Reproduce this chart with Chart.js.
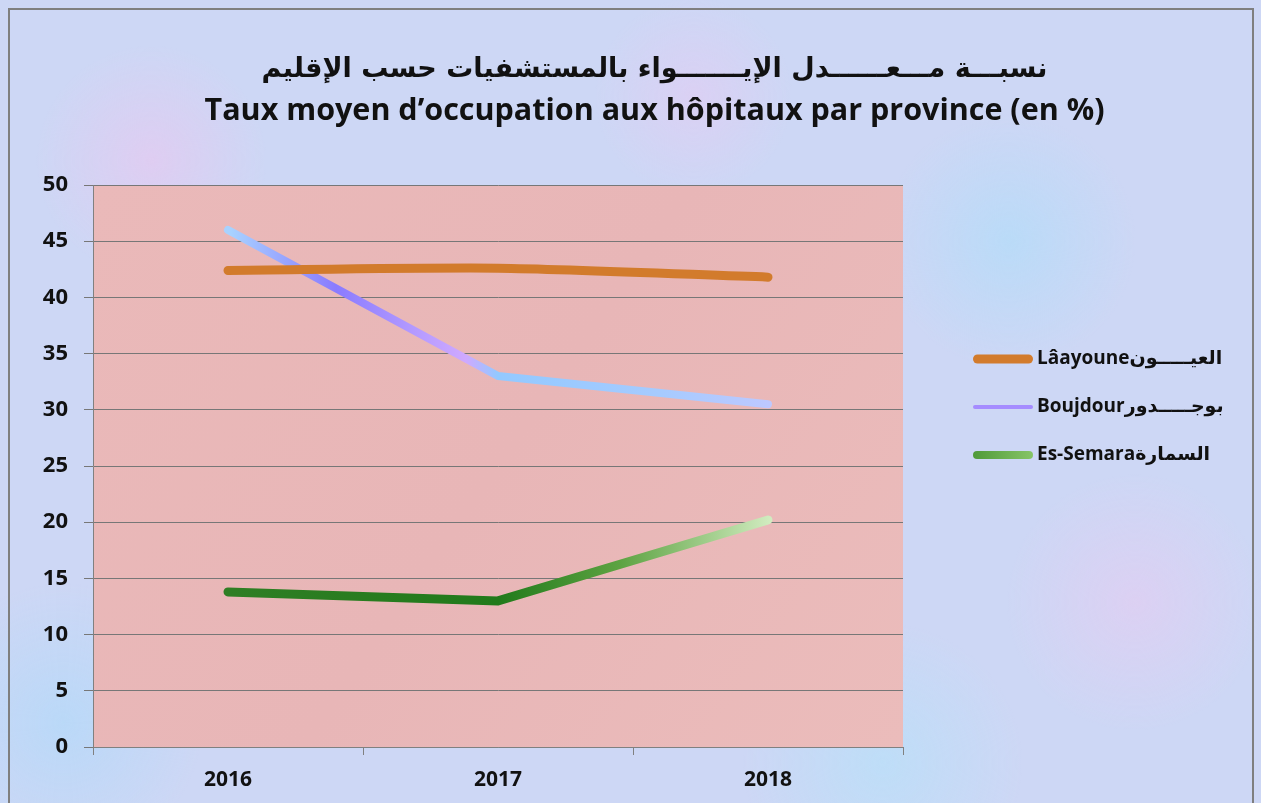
<!DOCTYPE html>
<html>
<head>
<meta charset="utf-8">
<script src="https://cdn.jsdelivr.net/npm/chart.js@4/dist/chart.umd.min.js"></script>
<style>
  html, body { margin:0; padding:0; width:1261px; height:803px; overflow:hidden; }
  body {
    background-color:#cdd7f5;
    background-image:
      radial-gradient(circle at 12% 20%, rgba(240,195,238,0.5) 0, rgba(240,195,238,0) 9%),
      radial-gradient(circle at 30% 70%, rgba(175,228,250,0.55) 0, rgba(175,228,250,0) 12%),
      radial-gradient(circle at 55% 12%, rgba(235,200,242,0.45) 0, rgba(235,200,242,0) 10%),
      radial-gradient(circle at 80% 30%, rgba(170,222,250,0.55) 0, rgba(170,222,250,0) 11%),
      radial-gradient(circle at 90% 75%, rgba(238,200,240,0.45) 0, rgba(238,200,240,0) 10%),
      radial-gradient(circle at 70% 95%, rgba(175,228,250,0.5) 0, rgba(175,228,250,0) 12%),
      radial-gradient(circle at 5% 90%, rgba(170,218,250,0.55) 0, rgba(170,218,250,0) 10%),
      radial-gradient(circle at 45% 50%, rgba(228,205,246,0.45) 0, rgba(228,205,246,0) 15%);
  }
  #frame { position:absolute; left:8px; top:8px; width:1246px; height:820px; border:2px solid #7f7f7f; box-sizing:border-box; pointer-events:none; }
  #wrap { position:absolute; left:0; top:0; width:1309px; height:803px; }
</style>
</head>
<body>
<div id="wrap"><canvas id="c" width="1309" height="803"></canvas></div>
<div id="frame"></div>
<script>
// ---- data ----
const categories = ['2016', '2017', '2018'];
const laayoune = [42.4, 42.6, 41.8];
const boujdour = [46.0, 33.0, 30.5];
const semara = [13.8, 13.0, 20.2];
const seriesNames = ['Lâayoune' + 'العيـــــون', 'Boujdour' + 'بوجـــــدور', 'Es-Semara' + 'السمارة'];
const yTicks = [0, 5, 10, 15, 20, 25, 30, 35, 40, 45, 50];
const titleAr = 'نسبـــة مـــعــــــدل الإيـــــــواء بالمستشفيات حسب الإقليم';
const titleFr = 'Taux moyen d’occupation aux hôpitaux par province (en %)';

function hGrad(chart, stops, fallback) {
  const a = chart.chartArea;
  if (!a) return fallback;
  const g = chart.ctx.createLinearGradient(a.left, 0, a.right, 0);
  stops.forEach(s => g.addColorStop(s[0], s[1]));
  return g;
}
const blueStops = [[0, '#a8d4ff'], [0.17, '#a8d2ff'], [0.3, '#8a7bff'], [0.4, '#b59bff'], [0.46, '#cfa9ff'], [0.5, '#93c9ff'], [0.7, '#a6cbff'], [0.84, '#bec8ff'], [1, '#bec8ff']];
const greenStops = [[0, '#2f7e24'], [0.17, '#2f7e24'], [0.5, '#217a1b'], [0.65, '#5da342'], [0.84, '#d3edc2'], [1, '#d3edc2']];

const plotBg = {
  id: 'plotBg',
  beforeDraw(chart) {
    const { ctx, chartArea: a } = chart;
    ctx.save();
    const g = ctx.createLinearGradient(a.left, a.top, a.right, a.bottom);
    g.addColorStop(0, '#eab9b9');
    g.addColorStop(0.5, '#e8b6b7');
    g.addColorStop(1, '#ebbcbb');
    ctx.fillStyle = g;
    ctx.fillRect(a.left, a.top, a.right - a.left, a.bottom - a.top);
    ctx.restore();
  }
};

const customLegend = {
  id: 'customLegend',
  afterDraw(chart, args, opts) {
    const ctx = chart.ctx;
    ctx.save();
    chart.data.datasets.forEach((ds, i) => {
      const y = opts.y0 + i * opts.dy;
      const sw = opts.swatches[i];
      let stroke = sw.color;
      if (sw.stops) {
        const g = ctx.createLinearGradient(opts.x, 0, opts.x + opts.w, 0);
        sw.stops.forEach(s => g.addColorStop(s[0], s[1]));
        stroke = g;
      }
      ctx.strokeStyle = stroke;
      ctx.lineWidth = sw.width;
      ctx.lineCap = 'round';
      ctx.beginPath();
      ctx.moveTo(opts.x + sw.width / 2, y);
      ctx.lineTo(opts.x + opts.w - sw.width / 2, y);
      ctx.stroke();
      ctx.fillStyle = '#111';
      ctx.font = opts.font;
      ctx.textBaseline = 'middle';
      ctx.textAlign = 'left';
      ctx.fillText(ds.label, opts.x + opts.w + 4, y);
    });
    ctx.restore();
  }
};

const latin = "'Open Sans', 'DejaVu Sans', sans-serif";

new Chart(document.getElementById('c'), {
  type: 'line',
  data: {
    labels: categories,
    datasets: [
      { label: seriesNames[0], data: laayoune, borderColor: '#d27b2c', borderWidth: 9, tension: 0.25, borderCapStyle: 'round', borderJoinStyle: 'round', pointRadius: 0, fill: false },
      { label: seriesNames[1], data: boujdour, borderColor: c => hGrad(c.chart, blueStops, '#a8c8ff'), borderWidth: 8, tension: 0, borderCapStyle: 'round', borderJoinStyle: 'round', pointRadius: 0, fill: false },
      { label: seriesNames[2], data: semara, borderColor: c => hGrad(c.chart, greenStops, '#2f7e24'), borderWidth: 9, tension: 0, borderCapStyle: 'round', borderJoinStyle: 'round', pointRadius: 0, fill: false }
    ]
  },
  options: {
    responsive: false,
    animation: false,
    devicePixelRatio: 1,
    layout: { padding: { left: 0, right: 0, top: 0, bottom: 0 } },
    plugins: {
      legend: { display: false },
      tooltip: { enabled: false },
      title: {
        display: true,
        text: titleAr,
        color: '#111',
        font: { family: "'DejaVu Sans', sans-serif", size: 27, weight: 'bold', lineHeight: 1.2 },
        padding: { top: 54, bottom: 0 },
        align: 'center'
      },
      subtitle: {
        display: true,
        text: titleFr,
        color: '#111',
        font: { family: latin, size: 30.5, weight: 'bold', lineHeight: 1.2 },
        padding: { top: 7, bottom: 55 }
      },
      customLegend: {
        x: 973, w: 60, y0: 359, dy: 48,
        font: "bold 19px 'Open Sans', 'DejaVu Sans', sans-serif",
        swatches: [
          { color: '#d27b2c', width: 9 },
          { color: '#a58cff', width: 4 },
          { stops: [[0, '#4f9a3a'], [1, '#86c466']], width: 8 }
        ]
      }
    },
    scales: {
      x: {
        offset: true,
        grid: { display: true, offset: true, drawOnChartArea: false, drawTicks: true, tickLength: 8, color: '#808080', lineWidth: 1 },
        border: { display: true, color: '#808080', width: 1 },
        ticks: { color: '#111', font: { family: latin, size: 21, weight: 'bold' }, padding: 12, maxRotation: 0 },
        afterFit: s => { s.height = 56; }
      },
      y: {
        min: 0, max: 50,
        afterBuildTicks: s => { s.ticks = yTicks.map(v => ({ value: v })); },
        grid: { color: '#777777', lineWidth: 1, drawTicks: true, tickLength: 9 },
        border: { display: true, color: '#808080', width: 1 },
        ticks: { color: '#111', font: { family: latin, size: 22, weight: 'bold' }, padding: 16 },
        afterFit: s => { s.width = 93; }
      },
      spacer: {
        type: 'linear',
        position: 'right',
        display: true,
        grid: { display: false, drawTicks: false },
        border: { display: false },
        ticks: { display: false },
        afterFit: s => { s.width = 406; }
      }
    }
  },
  plugins: [plotBg, customLegend]
});
</script>
</body>
</html>
